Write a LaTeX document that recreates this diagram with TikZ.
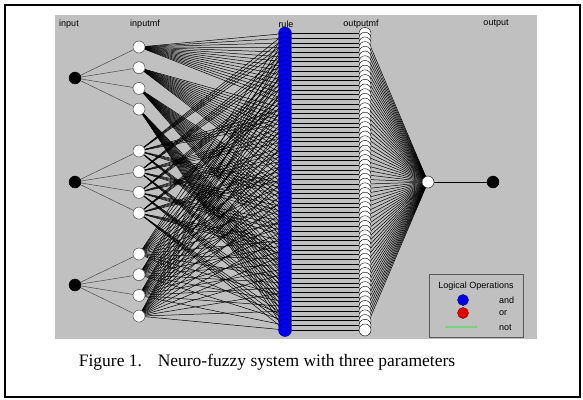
\documentclass[tikz,border=0pt]{standalone}
\usepackage{tikz}
\usepackage{fontspec}
\setmainfont{Liberation Serif}
\setsansfont{Liberation Sans}
\usetikzlibrary{backgrounds}
\definecolor{nf_gray}{RGB}{192, 192, 192}
\definecolor{nf_blue}{RGB}{0, 0, 235}
\definecolor{nf_red}{RGB}{235, 0, 0}
\definecolor{nf_green}{RGB}{120, 210, 120}
\tikzstyle{ipn}=[circle,fill=black,draw=black,
  line width=0.4pt,inner sep=0pt,minimum size=12pt]
\tikzstyle{mfn}=[circle,fill=white,draw=black!70,
  line width=0.5pt,inner sep=0pt,minimum size=12pt]
\tikzstyle{rln}=[circle,fill=nf_blue,draw=nf_blue!55!black,
  line width=0.4pt,inner sep=0pt,minimum size=13pt]
\tikzstyle{omn}=[circle,fill=white,draw=black,
  line width=0.4pt,inner sep=0pt,minimum size=12pt]
\tikzstyle{lbl}=[font=\sffamily\fontsize{9}{11}\selectfont,inner sep=0pt]
\tikzstyle{wire}=[line width=0.5pt]

\begin{document}
\begin{tikzpicture}[x=1pt,y=-1pt]
    \useasboundingbox (0,0) rectangle (583,399);
    \draw [line width=1.6pt] (5,5) rectangle (580,397);
    % inputs and their membership functions
    \foreach \i/\y in {1/78,2/182,3/285} {
      \node [style=ipn] (x\i) at (75,\y) {};
      \foreach \j in {1,...,4}
        \node [style=mfn] (m\i\j) at (139,{\y-31+(\j-1)*20.7}) {};
    }
    % rules and output mfs
    \foreach \r in {0,...,63}
      \node [style=rln] (r\r) at (285,{33.5+\r*4.706}) {};
    \foreach \r in {0,...,63}
      \node [style=omn] (o\r) at (365,{33.5+\r*4.706}) {};
    \node [style=omn] (agg) at (428,182) {};
    \node [style=ipn] (y) at (493,182) {};
    % layer titles
    \node [style=lbl] (tin) at (69,24) {input};
    \node [style=lbl] (tmf) at (145,24) {inputmf};
    \node [style=lbl] (trule) at (286,24) {rule};
    \node [style=lbl] (tomf) at (361,24) {outputmf};
    \node [style=lbl] (tout) at (496,24) {output};
    \begin{pgfonlayer}{background}
      \fill [nf_gray] (55,15) rectangle (537,339);
      \foreach \i in {1,2,3}
        \foreach \j in {1,...,4}
          \draw [wire,black!70] (x\i) to (m\i\j);
      \foreach \a in {1,...,4}
        \foreach \b in {1,...,4}
          \foreach \c in {1,...,4} {
            \pgfmathtruncatemacro\r{(\a-1)*16+(\b-1)*4+\c-1}
            \draw [wire] (m1\a) to (r\r);
            \draw [wire] (m2\b) to (r\r);
            \draw [wire] (m3\c) to (r\r);
          }
      \foreach \r in {0,...,63} {
        \draw [wire] (r\r) to (o\r);
        \draw [wire] (o\r) to (agg);
      }
      \draw [wire] (agg) to (y);
    \end{pgfonlayer}
    % legend
    \node [draw=black!65,fill=nf_gray,line width=0.8pt,inner sep=0pt,
      minimum width=94pt,minimum height=63pt] (leg) at (476,305.5) {};
    \node [style=lbl] (legt) at (476,286) {Logical Operations};
    \node [circle,fill=nf_blue,draw=nf_blue!55!black,inner sep=0pt,
      minimum size=11pt] (land) at (463,300) {};
    \node [circle,fill=nf_red,draw=nf_red!55!black,inner sep=0pt,
      minimum size=11pt] (lor) at (463,313) {};
    \coordinate (ga) at (445,327);
    \coordinate (gb) at (477,327);
    \draw [nf_green,line width=1.2pt] (ga) to (gb);
    \node [style=lbl,anchor=west] (tand) at (499,300) {and};
    \node [style=lbl,anchor=west] (tor) at (499,313) {or};
    \node [style=lbl,anchor=west] (tnot) at (499,328) {not};
    % caption
    \node [font=\fontsize{17.5}{21}\selectfont,inner sep=0pt] (cap) at (267,362)
      {Figure 1.\hspace{0.9em}Neuro-fuzzy system with three parameters};
\end{tikzpicture}
\end{document}
